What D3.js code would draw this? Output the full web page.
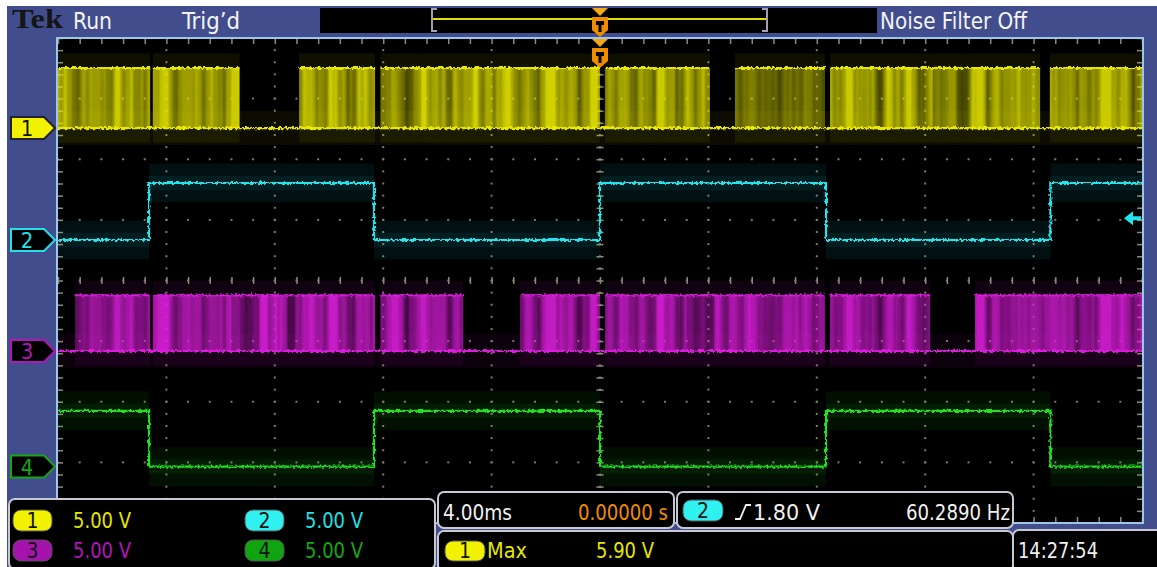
<!DOCTYPE html>
<html>
<head>
<meta charset="utf-8">
<script src="https://cdn.jsdelivr.net/npm/d3@7"></script>
<style>
  body { margin: 0; background: #fff; }
  svg { display: block; }
  .lbl { font-family: "Liberation Sans Narrow", "DejaVu Sans Condensed", "Liberation Sans", sans-serif; }
</style>
</head>
<body>
<svg id="scope" width="1157" height="567"></svg>
<script>
// scope settings: 5 V/div, 4 ms/div, channel ground position in divisions
const channels = ['1', '2', '3', '4'];
const channelColors = ['#e8e800', '#22e4ec', '#dc1edc', '#22e022'];
const badgeColors = ['#f2f200', '#30f0f0', '#a414ac', '#10a410'];
const textColors = ['#e6e600', '#22e0e8', '#b414bc', '#14a814'];
const channelPosDiv = [2.515, 0.668, -1.163, -3.07];
const highVolts = [4.95, 4.7, 4.6, 4.6];
const voltsPerDiv = 5;

// ch2 and ch4 square waves: edge times (ms)
const squareEdges = [-16.64, -8.34, 0, 8.34, 16.62];
const squareStartHigh = { '2': false, '4': true };

// switching bursts on ch1 / ch3: [start ms, end ms, brightness]
const ch1Bursts = [
  [-20, -16.6, 0.9], [-16.5, -13.3, 0.9], [-11.1, -8.3, 0.9],
  [-8.1, -6.6, 0.7], [-6.6, 0, 0.95], [0.18, 4.06, 0.9],
  [4.98, 8.3, 0.55], [8.49, 12.3, 0.9], [12.3, 13.4, 0.6], [13.4, 16.24, 0.9], [16.6, 20, 0.9]
];
const ch3Bursts = [
  [-19.37, -16.6, 0.85], [-16.5, -13.6, 0.95], [-13.6, -12.6, 0.55], [-12.6, -8.3, 0.95],
  [-8.1, -5.05, 0.9], [-2.95, 0, 0.9], [0.18, 3.2, 0.95], [3.2, 4.2, 0.6], [4.2, 8.3, 0.9],
  [8.49, 12.18, 0.9], [13.84, 20, 0.9]
];

// readouts
const vLabels = ['5.00 V', '5.00 V', '5.00 V', '5.00 V'];
const timePerDiv = '4.00ms';
const trigPosition = '0.00000 s';
const trigSource = '2';
const trigLevelV = 1.80;
const trigLevel = '1.80 V';
const frequency = '60.2890 Hz';
const measLabel = 'Max';
const measValue = '5.90 V';
const clock = '14:27:54';

const svg = d3.select('#scope');
const blue = '#414d8d';
const frame = '#9cc6ec';

svg.append('rect').attr('width', 1157).attr('height', 567).attr('fill', '#fff');
svg.append('rect').attr('x', 7).attr('y', 6).attr('width', 1150).attr('height', 561).attr('fill', blue);

const defs = svg.append('defs');
defs.append('clipPath').attr('id', 'plotClip')
  .append('rect').attr('x', 58).attr('y', 39).attr('width', 1084).attr('height', 483);

const stripes = defs.append('filter').attr('id', 'stripes')
  .attr('filterUnits', 'userSpaceOnUse').attr('x', 0).attr('y', 0).attr('width', 1157).attr('height', 567);
stripes.append('feTurbulence').attr('type', 'fractalNoise').attr('baseFrequency', '0.07 0.0004')
  .attr('numOctaves', 3).attr('seed', 7).attr('result', 'n');
stripes.append('feColorMatrix').attr('in', 'n').attr('type', 'matrix')
  .attr('values', '0 0 0 0 0  0 0 0 0 0  0 0 0 0 0  2.4 0 0 0 -0.6').attr('result', 'a');
stripes.append('feComposite').attr('in', 'SourceGraphic').attr('in2', 'a').attr('operator', 'in');

const jitter = defs.append('filter').attr('id', 'jitter')
  .attr('filterUnits', 'userSpaceOnUse').attr('x', 0).attr('y', 0).attr('width', 1157).attr('height', 567);
jitter.append('feTurbulence').attr('type', 'fractalNoise').attr('baseFrequency', '0.45 0.35')
  .attr('numOctaves', 1).attr('seed', 3).attr('result', 't');
jitter.append('feDisplacementMap').attr('in', 'SourceGraphic').attr('in2', 't')
  .attr('scale', 5).attr('xChannelSelector', 'R').attr('yChannelSelector', 'G');

// scales
const x = d3.scaleLinear().domain([-20, 20]).range([58, 1142]);
const y = d3.scaleLinear().domain([-4, 4]).range([523, 38]);
const level = (ch, v) => y(channelPosDiv[ch] + v / voltsPerDiv);

// graticule
svg.append('rect').attr('x', 57).attr('y', 38).attr('width', 1086).attr('height', 485)
  .attr('fill', '#000');

const grid = svg.append('g').attr('clip-path', 'url(#plotClip)');
const minorT = d3.range(-100, 101, 4).map(d => d / 5);
const minorV = d3.range(-20, 21).map(d => d / 5);
const majorT = d3.range(-16, 17, 4);
const majorV = d3.range(-3, 4);
const dotColor = '#7c7c66';
majorT.forEach(t => {
  grid.selectAll(null).data(minorV).enter().append('rect')
    .attr('x', x(t) - 1).attr('y', d => y(d) - 1).attr('width', 2).attr('height', 2).attr('fill', dotColor);
});
majorV.forEach(v => {
  grid.selectAll(null).data(minorT).enter().append('rect')
    .attr('x', d => x(d) - 1).attr('y', y(v) - 1).attr('width', 2).attr('height', 2).attr('fill', dotColor);
});

function tickAxis(axis, tx, ty) {
  const g = svg.append('g').attr('transform', `translate(${tx},${ty})`).call(axis);
  g.select('.domain').remove();
  g.selectAll('line').attr('stroke', '#8c8c72').attr('stroke-width', 1.5);
}
tickAxis(d3.axisBottom(x).tickValues(minorT).tickSize(5).tickFormat(''), 0, 39);
tickAxis(d3.axisTop(x).tickValues(minorT).tickSize(5).tickFormat(''), 0, 522);
tickAxis(d3.axisRight(y).tickValues(minorV).tickSize(5).tickFormat(''), 58, 0);
tickAxis(d3.axisLeft(y).tickValues(minorV).tickSize(5).tickFormat(''), 1142, 0);
tickAxis(d3.axisBottom(x).tickValues(minorT).tickSize(7).tickFormat(''), 0, y(0) - 3.5);
tickAxis(d3.axisRight(y).tickValues(minorV).tickSize(7).tickFormat(''), x(0) - 3.5, 0);

// traces
const traces = svg.append('g').attr('clip-path', 'url(#plotClip)');
const line = d3.line().x(d => x(d[0])).y(d => d[1]).curve(d3.curveStepAfter);

function drawSquare(ch) {
  const c = channelColors[ch];
  let high = squareStartHigh[channels[ch]];
  const times = [-20, ...squareEdges, 20];
  const pts = [];
  const halo = traces.append('g').attr('fill', c);
  for (let i = 0; i < times.length - 1; i++) {
    const v = high ? highVolts[ch] : 0;
    pts.push([times[i], level(ch, v)]);
    halo.append('rect')
      .attr('x', x(times[i])).attr('width', x(times[i + 1]) - x(times[i]))
      .attr('y', level(ch, v + 1.6)).attr('height', level(ch, v - 1.6) - level(ch, v + 1.6))
      .attr('opacity', 0.07);
    halo.append('rect')
      .attr('x', x(times[i])).attr('width', x(times[i + 1]) - x(times[i]))
      .attr('y', level(ch, v + 0.6)).attr('height', level(ch, v - 0.6) - level(ch, v + 0.6))
      .attr('opacity', 0.07);
    high = !high;
  }
  pts.push([20, pts[pts.length - 1][1]]);
  traces.append('path').datum(pts).attr('d', line)
    .attr('fill', 'none').attr('stroke', c).attr('stroke-width', 2.2).attr('filter', 'url(#jitter)');
}

function drawBursts(ch, bursts) {
  const c = channelColors[ch];
  const yHi = level(ch, highVolts[ch]);
  const yLo = level(ch, 0);
  // persistence halo around whole trace
  traces.append('rect').attr('x', 58).attr('width', 1084)
    .attr('y', level(ch, 1.4)).attr('height', level(ch, -1.4) - level(ch, 1.4))
    .attr('fill', c).attr('opacity', 0.05);
  const haloG = traces.append('g').attr('fill', c);
  haloG.selectAll('rect').data(bursts).enter().append('rect')
    .attr('x', d => x(d[0])).attr('width', d => x(d[1]) - x(d[0]))
    .attr('y', level(ch, highVolts[ch] + 1.2)).attr('height', level(ch, -1.2) - level(ch, highVolts[ch] + 1.2))
    .attr('opacity', 0.07);
  const base = traces.append('g').attr('fill', c);
  base.selectAll('rect').data(bursts).enter().append('rect')
    .attr('x', d => x(d[0])).attr('width', d => x(d[1]) - x(d[0]))
    .attr('y', yHi).attr('height', yLo - yHi)
    .attr('opacity', d => d[2] * 0.3);
  const bg = traces.append('g').attr('filter', 'url(#stripes)');
  bg.selectAll('rect').data(bursts).enter().append('rect')
    .attr('x', d => x(d[0])).attr('width', d => x(d[1]) - x(d[0]))
    .attr('y', yHi).attr('height', yLo - yHi)
    .attr('fill', c).attr('opacity', d => d[2] * 0.9);
  const lines = traces.append('g').attr('stroke', c).attr('stroke-width', 2.2)
    .attr('fill', 'none').attr('filter', 'url(#jitter)');
  lines.selectAll('path').data(bursts).enter().append('path')
    .attr('d', d => line([[d[0], yHi], [d[1], yHi]]));
  lines.append('path').attr('d', line([[-20, yLo], [20, yLo]]));
}

drawBursts(0, ch1Bursts);
drawSquare(1);
drawBursts(2, ch3Bursts);
drawSquare(3);

// plot frame
svg.append('rect').attr('x', 57).attr('y', 38).attr('width', 1086).attr('height', 485)
  .attr('fill', 'none').attr('stroke', frame).attr('stroke-width', 2);

// trigger position marker
const orange = '#f08c00';
const tx = x(0);
function trigMarker(g, top) {
  g.append('path').attr('d', `M${tx - 8},${top} H${tx + 8} L${tx},${top + 8} Z`).attr('fill', '#f4a818');
  g.append('path')
    .attr('d', `M${tx - 8},${top + 9} H${tx + 8} V${top + 22} L${tx},${top + 29} L${tx - 8},${top + 22} Z`)
    .attr('fill', orange);
  g.append('path')
    .attr('d', `M${tx - 4},${top + 13} H${tx + 4} V${top + 17} H${tx + 1.5} V${top + 24} H${tx - 1.5} V${top + 17} H${tx - 4} Z`)
    .attr('fill', '#000');
}
trigMarker(svg.append('g'), 39);

// trigger level arrow (right edge)
const ty = level(1, trigLevelV);
svg.append('path')
  .attr('d', `M1124,${ty} L1133,${ty - 7} V${ty - 2} H1141 V${ty + 2} H1133 V${ty + 7} Z`)
  .attr('fill', channelColors[1]);

// channel ground markers
channels.forEach((ch, i) => {
  const yc = level(i, 0);
  const g = svg.append('g').attr('transform', `translate(0,${yc})`);
  g.append('path').attr('d', 'M11,-11 H44 L55,0 L44,11 H11 Z')
    .attr('fill', i === 0 ? badgeColors[0] : '#000')
    .attr('stroke', i === 0 ? '#222' : textColors[i]).attr('stroke-width', 2);
  g.append('text').attr('class', 'lbl').attr('x', 27).attr('y', 8).attr('text-anchor', 'middle')
    .attr('font-size', 22).attr('fill', i === 0 ? '#111' : textColors[i]).text(ch);
});

// top status bar
svg.append('text').attr('x', 12).attr('y', 28).attr('font-family', '"Liberation Serif", serif')
  .attr('font-weight', 'bold').attr('font-size', 27).attr('fill', '#151515')
  .attr('textLength', 51).attr('lengthAdjust', 'spacingAndGlyphs').text('Tek');
const topText = [['Run', 73, 39], ['Trig’d', 182, 58], ['Noise Filter Off', 880, 147]];
svg.selectAll(null).data(topText).enter().append('text').attr('class', 'lbl')
  .attr('x', d => d[1]).attr('y', 29).attr('font-size', 23).attr('fill', '#f4f4f4')
  .attr('textLength', d => d[2]).attr('lengthAdjust', 'spacingAndGlyphs').text(d => d[0]);

svg.append('rect').attr('x', 320).attr('y', 8).attr('width', 557).attr('height', 25).attr('fill', '#000');
svg.append('line').attr('x1', 433).attr('x2', 767).attr('y1', 19).attr('y2', 19)
  .attr('stroke', '#e0e000').attr('stroke-width', 2);
svg.append('path').attr('d', 'M437,9 H432 V31 H437 M762,9 H767 V31 H762')
  .attr('fill', 'none').attr('stroke', '#a89cb4').attr('stroke-width', 2);
const tb = svg.append('g').attr('transform', 'translate(0,-31)');
trigMarker(tb, 39);

// readout panels
const panelStroke = '#c8c8d2';
function panel(px, py, w, h) {
  svg.append('rect').attr('x', px).attr('y', py).attr('width', w).attr('height', h).attr('rx', 6)
    .attr('fill', '#000').attr('stroke', panelStroke).attr('stroke-width', 2);
}
panel(9, 499, 426, 70);
panel(438, 492, 236, 36);
panel(677, 492, 336, 36);
panel(438, 531, 575, 40);
panel(1013, 530, 150, 42);

function badge(bx, by, ch, w, h) {
  const i = channels.indexOf(ch);
  svg.append('rect').attr('x', bx).attr('y', by).attr('width', w).attr('height', h).attr('rx', 8)
    .attr('fill', badgeColors[i]).attr('stroke', '#555').attr('stroke-width', 1);
  svg.append('text').attr('class', 'lbl').attr('x', bx + w / 2).attr('y', by + h - 3)
    .attr('text-anchor', 'middle').attr('font-size', 21).attr('fill', '#111').text(ch);
}
function label(tx0, ty0, txt, color, len) {
  svg.append('text').attr('class', 'lbl').attr('x', tx0).attr('y', ty0).attr('font-size', 21)
    .attr('fill', color).attr('textLength', len).attr('lengthAdjust', 'spacingAndGlyphs').text(txt);
}

const voltPos = [[13, 510, 73, 528], [245, 510, 305, 528], [13, 540, 73, 558], [245, 540, 305, 558]];
channels.forEach((ch, i) => {
  const p = voltPos[i];
  badge(p[0], p[1], ch, 39, 21);
  label(p[2], p[3], vLabels[i], textColors[i], 58);
});

label(443, 520, timePerDiv, '#f0f0f0', 69);
label(578, 520, trigPosition, orange, 90);
badge(683, 500, trigSource, 40, 21);
svg.append('path').attr('d', 'M735,519 H740 L746,505 H751').attr('fill', 'none')
  .attr('stroke', '#f0f0f0').attr('stroke-width', 1.8);
label(753, 520, trigLevel, '#f0f0f0', 67);
label(906, 520, frequency, '#f0f0f0', 104);
badge(445, 541, '1', 40, 20);
label(487, 558, measLabel, '#e6e600', 40);
label(596, 558, measValue, '#e6e600', 58);
label(1018, 558, clock, '#f0f0f0', 80);
</script>
</body>
</html>
